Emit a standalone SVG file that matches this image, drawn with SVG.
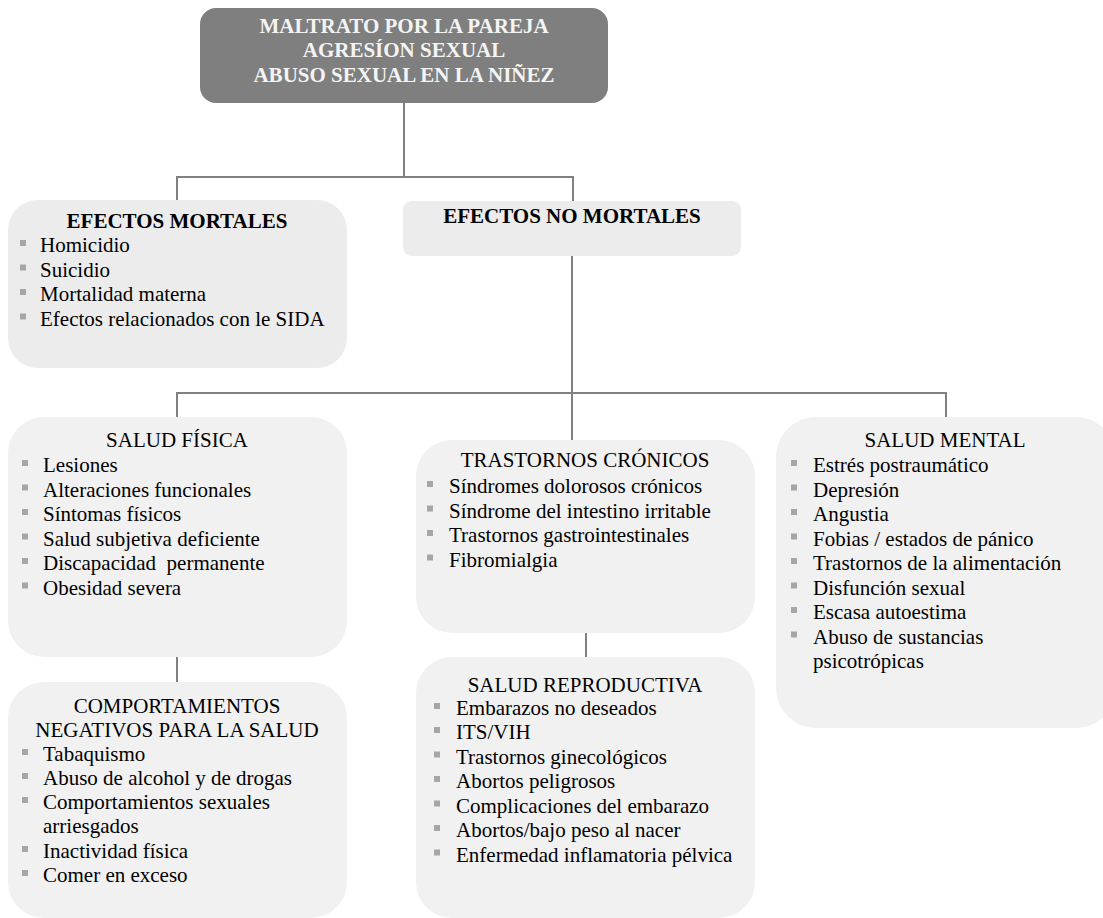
<svg xmlns="http://www.w3.org/2000/svg" width="1103" height="918" viewBox="0 0 1103 918">
<style>
.conn{stroke:#808080;stroke-width:2;fill:none}
.box1{fill:#ececec}
.box2{fill:#f1f1f1}
.top{fill:#7f7f7f}
text{font-family:"Liberation Serif","Times New Roman",serif;font-size:21px;fill:#000}
.tw{fill:#f4f4f4;font-weight:bold;text-anchor:middle}
.tb{font-weight:bold;text-anchor:middle}
.tc{text-anchor:middle}
.bul{fill:#a6a6a6}
</style>
<defs>
<rect id="b" class="bul" x="0" y="-5" width="6" height="6"/>
</defs>
<rect width="1103" height="918" fill="#fff"/>
<g id="connectors">
<path class="conn" d="M404,103V177M177,200V177H573V201"/>
<path class="conn" d="M572,256V440M177,417V393H946V417"/>
<path class="conn" d="M177,657V682"/>
<path class="conn" d="M586,633V657"/>
</g>
<g id="n-root">
<rect class="top" x="200" y="8" width="408" height="95" rx="16"/>
<text class="tw" x="404" y="33">MALTRATO POR LA PAREJA</text>
<text class="tw" x="404" y="57">AGRESÍON SEXUAL</text>
<text class="tw" x="404" y="82">ABUSO SEXUAL EN LA NIÑEZ</text>
</g>
<g id="n-mortales">
<rect class="box1" x="8" y="200" width="339" height="168" rx="30"/>
<text class="tb" x="177" y="228">EFECTOS MORTALES</text>
<use href="#b" x="20" y="245"/><text x="40" y="252">Homicidio</text>
<use href="#b" x="20" y="269.5"/><text x="40" y="276.5">Suicidio</text>
<use href="#b" x="20" y="294"/><text x="40" y="301">Mortalidad materna</text>
<use href="#b" x="20" y="318.5"/><text x="40" y="325.5">Efectos relacionados con le SIDA</text>
</g>
<g id="n-nomortales">
<rect class="box1" x="403" y="201" width="338" height="55" rx="9"/>
<text class="tb" x="572" y="223">EFECTOS NO MORTALES</text>
</g>
<g id="n-fisica">
<rect class="box2" x="8" y="417" width="339" height="240" rx="36"/>
<text class="tc" x="177" y="447">SALUD FÍSICA</text>
<use href="#b" x="22" y="465"/><text x="43" y="472">Lesiones</text>
<use href="#b" x="22" y="489.5"/><text x="43" y="496.5">Alteraciones funcionales</text>
<use href="#b" x="22" y="514"/><text x="43" y="521">Síntomas físicos</text>
<use href="#b" x="22" y="538.5"/><text x="43" y="545.5">Salud subjetiva deficiente</text>
<use href="#b" x="22" y="563"/><text x="43" y="570" xml:space="preserve">Discapacidad  permanente</text>
<use href="#b" x="22" y="587.5"/><text x="43" y="594.5">Obesidad severa</text>
</g>
<g id="n-cronicos">
<rect class="box2" x="416" y="440" width="339" height="193" rx="36"/>
<text class="tc" x="585" y="467">TRASTORNOS CRÓNICOS</text>
<use href="#b" x="427" y="486"/><text x="449" y="493">Síndromes dolorosos crónicos</text>
<use href="#b" x="427" y="510.5"/><text x="449" y="517.5">Síndrome del intestino irritable</text>
<use href="#b" x="427" y="535"/><text x="449" y="542">Trastornos gastrointestinales</text>
<use href="#b" x="427" y="559.5"/><text x="449" y="566.5">Fibromialgia</text>
</g>
<g id="n-mental">
<rect class="box2" x="776" y="417" width="340" height="311" rx="40"/>
<text class="tc" x="945" y="447">SALUD MENTAL</text>
<use href="#b" x="791" y="465"/><text x="813" y="472">Estrés postraumático</text>
<use href="#b" x="791" y="489.5"/><text x="813" y="496.5">Depresión</text>
<use href="#b" x="791" y="514"/><text x="813" y="521">Angustia</text>
<use href="#b" x="791" y="538.5"/><text x="813" y="545.5">Fobias / estados de pánico</text>
<use href="#b" x="791" y="563"/><text x="813" y="570">Trastornos de la alimentación</text>
<use href="#b" x="791" y="587.5"/><text x="813" y="594.5">Disfunción sexual</text>
<use href="#b" x="791" y="612"/><text x="813" y="619">Escasa autoestima</text>
<use href="#b" x="791" y="636.5"/><text x="813" y="643.5">Abuso de sustancias</text>
<text x="813" y="668">psicotrópicas</text>
</g>
<g id="n-comportamientos">
<rect class="box2" x="8" y="682" width="339" height="236" rx="36"/>
<text class="tc" x="177" y="713">COMPORTAMIENTOS</text>
<text class="tc" x="177" y="737">NEGATIVOS PARA LA SALUD</text>
<use href="#b" x="22" y="754"/><text x="43" y="761">Tabaquismo</text>
<use href="#b" x="22" y="778"/><text x="43" y="785">Abuso de alcohol y de drogas</text>
<use href="#b" x="22" y="802"/><text x="43" y="809">Comportamientos sexuales</text>
<text x="43" y="833">arriesgados</text>
<use href="#b" x="22" y="851"/><text x="43" y="858">Inactividad física</text>
<use href="#b" x="22" y="875"/><text x="43" y="882">Comer en exceso</text>
</g>
<g id="n-reproductiva">
<rect class="box2" x="416" y="657" width="339" height="261" rx="36"/>
<text class="tc" x="585" y="692">SALUD REPRODUCTIVA</text>
<use href="#b" x="434" y="708"/><text x="456" y="715">Embarazos no deseados</text>
<use href="#b" x="434" y="732"/><text x="456" y="739">ITS/VIH</text>
<use href="#b" x="434" y="756.5"/><text x="456" y="763.5">Trastornos ginecológicos</text>
<use href="#b" x="434" y="781"/><text x="456" y="788">Abortos peligrosos</text>
<use href="#b" x="434" y="805.5"/><text x="456" y="812.5">Complicaciones del embarazo</text>
<use href="#b" x="434" y="830"/><text x="456" y="837">Abortos/bajo peso al nacer</text>
<use href="#b" x="434" y="854.5"/><text x="456" y="861.5">Enfermedad inflamatoria pélvica</text>
</g>
</svg>
